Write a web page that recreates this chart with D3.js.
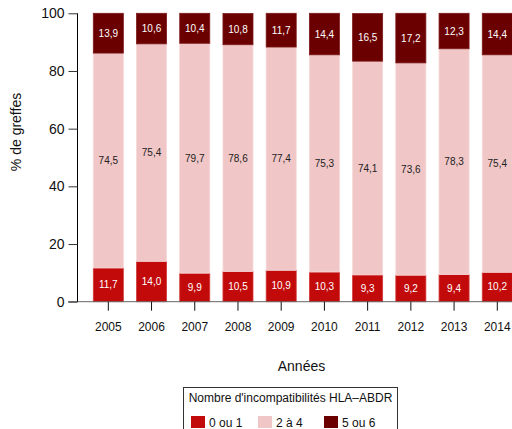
<!DOCTYPE html>
<html><head><meta charset="utf-8">
<script src="https://cdn.jsdelivr.net/npm/d3@7"></script>
<style>body{margin:0;background:#fff}svg{display:block;font-family:"Liberation Sans",Arial,sans-serif}</style>
</head><body><svg id="c" width="512" height="429"></svg>
<script>
const years = ["2005","2006","2007","2008","2009","2010","2011","2012","2013","2014"];
const s01 = [11.7,14.0,9.9,10.5,10.9,10.3,9.3,9.2,9.4,10.2];
const s24 = [74.5,75.4,79.7,78.6,77.4,75.3,74.1,73.6,78.3,75.4];
const s56 = [13.9,10.6,10.4,10.8,11.7,14.4,16.5,17.2,12.3,14.4];
const seriesNames = ["0 ou 1","2 à 4","5 ou 6"];
const yTicks = [0,20,40,60,80,100];
const colors = ["#C20A0A","#F0C6C6","#6B0000"];
const strokes = ["#D23A3A","#F6D9D9","#7E1A1A"];
const labelColors = ["#fff","#222","#fff"];

const svg = d3.select("#c");
const x = d3.scaleBand().domain(years).range([93.3,512.3]).paddingInner(0.305).paddingOuter(0);
const y = d3.scaleLinear().domain([0,100]).range([301.7,13.3]);

const rows = years.map((yr,i)=>({year:yr, s0:s01[i], s1:s24[i], s2:s56[i]}));
const stack = d3.stack().keys(["s0","s1","s2"])(rows);

stack.forEach((layer,k)=>{
  svg.append("g").selectAll("rect").data(layer).join("rect")
    .attr("x", d=>x(d.data.year)).attr("width", x.bandwidth())
    .attr("y", d=>y(Math.min(d[1],100))).attr("height", d=>y(d[0])-y(Math.min(d[1],100)))
    .attr("fill", colors[k]).attr("stroke", strokes[k]).attr("stroke-width",0.8);
  svg.append("g").selectAll("text").data(layer).join("text")
    .attr("x", d=>x(d.data.year)+x.bandwidth()/2)
    .attr("y", d=>(y(d[0])+y(Math.min(d[1],100)))/2+3.5)
    .attr("text-anchor","middle").attr("font-size",10).attr("fill",labelColors[k])
    .text(d=>d3.format(".1f")(d[1]-d[0]).replace(".",","));
});

// x baseline
svg.append("line").attr("x1",68).attr("x2",512).attr("y1",y(0)).attr("y2",y(0)).attr("stroke","#666").attr("stroke-width",1);

// y axis
const ya = svg.append("g").attr("transform","translate(77.5,0)")
  .call(d3.axisLeft(y).tickValues(yTicks).tickSize(9).tickPadding(4).tickFormat(d3.format("d")));
ya.select(".domain").attr("stroke","#000").attr("d","M0,"+y(100)+"V"+y(0));
ya.selectAll(".tick line").attr("stroke","#333");
ya.selectAll("text").attr("font-size",14).attr("fill","#111").attr("font-family","Liberation Sans, Arial, sans-serif");

// x axis
const xa = svg.append("g").attr("transform","translate(0,"+y(0)+")")
  .call(d3.axisBottom(x).tickSize(9).tickPadding(12));
xa.select(".domain").remove();
xa.selectAll(".tick line").attr("stroke","#111");
xa.selectAll("text").attr("font-size",12).attr("fill","#111").attr("font-family","Liberation Sans, Arial, sans-serif");

// titles
svg.append("text").attr("transform","translate(21,132) rotate(-90)").attr("text-anchor","middle")
  .attr("font-size",14).attr("fill","#111").text("% de greffes");
svg.append("text").attr("x",301.5).attr("y",371).attr("text-anchor","middle")
  .attr("font-size",14).attr("fill","#111").text("Années");

// legend
const lg = svg.append("g");
lg.append("rect").attr("x",183.5).attr("y",387.5).attr("width",214).attr("height",50)
  .attr("fill","#fff").attr("stroke","#333").attr("stroke-width",1);
lg.append("text").attr("x",290.5).attr("y",401.5).attr("text-anchor","middle").attr("font-size",12).attr("fill","#111")
  .text("Nombre d'incompatibilités HLA\u2013ABDR");
const lx = [191,258,324];
seriesNames.forEach((n,i)=>{
  lg.append("rect").attr("x",lx[i]).attr("y",416).attr("width",14).attr("height",12).attr("fill",colors[i]);
  lg.append("text").attr("x",lx[i]+18).attr("y",426.5).attr("font-size",12).attr("fill","#111").text(n);
});
</script></body></html>
